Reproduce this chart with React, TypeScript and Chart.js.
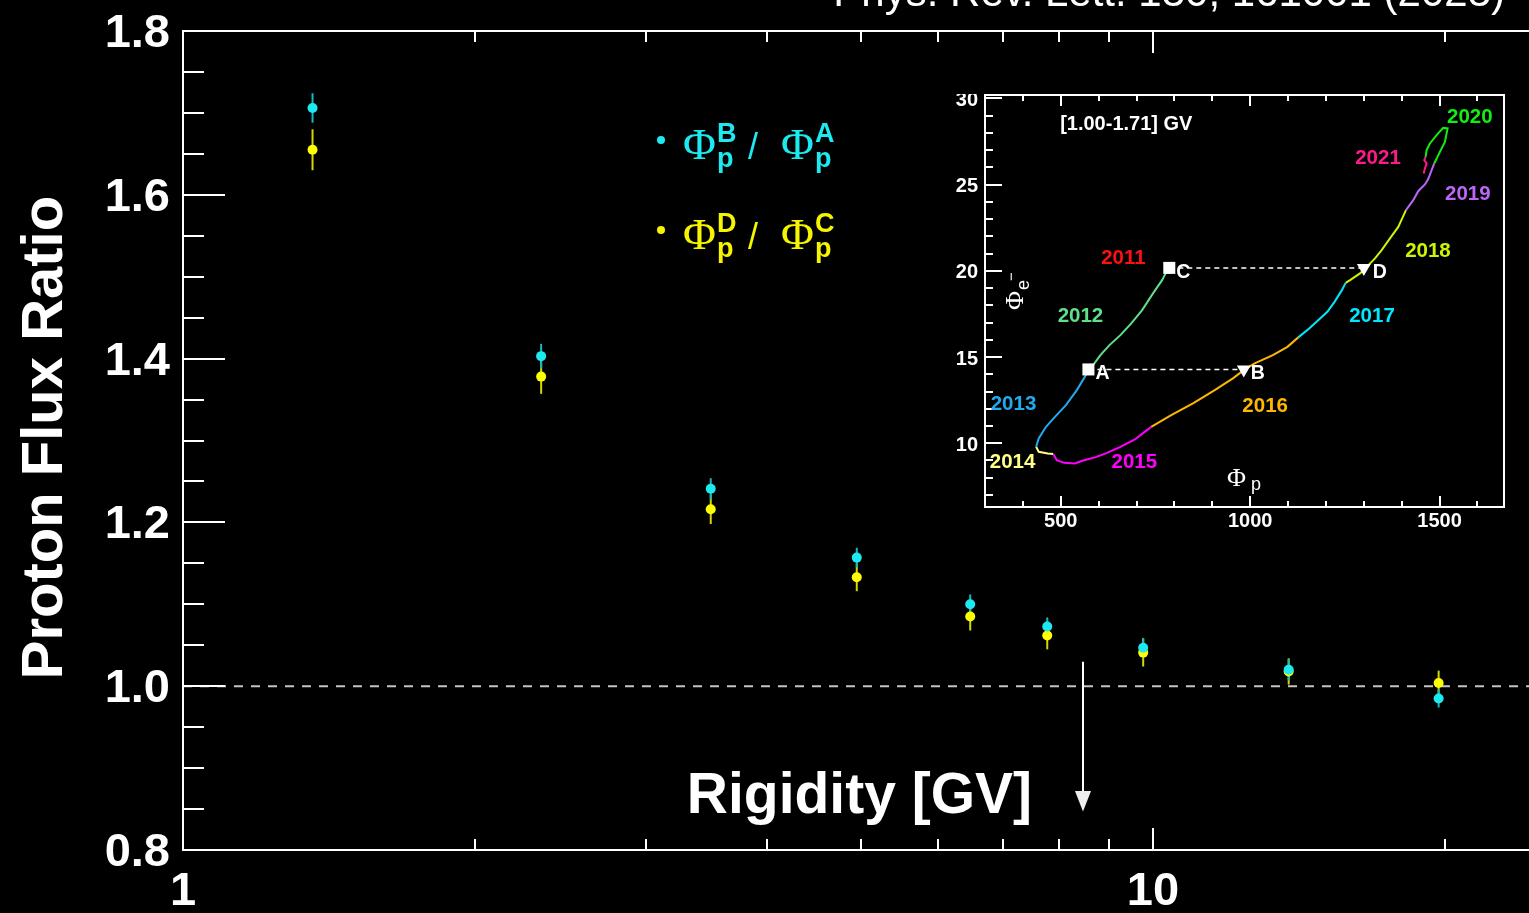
import React, { useEffect, useRef } from "react";
import { Chart, registerables } from "chart.js";

Chart.register(...registerables);

const FONT = '"Liberation Sans", Arial, Helvetica, sans-serif';
const SERIF = '"Liberation Serif", "Times New Roman", serif';

// ---------------- main panel data ----------------
const rigidityGV = [1.36, 2.34, 3.5, 4.95, 6.48, 7.78, 9.77, 13.8, 19.7];
const ratioBoverA = [1.706, 1.403, 1.241, 1.157, 1.1, 1.073, 1.047, 1.02, 0.985];
const errBoverA = [0.018, 0.015, 0.013, 0.012, 0.012, 0.011, 0.012, 0.013, 0.011];
const ratioDoverC = [1.655, 1.378, 1.216, 1.133, 1.085, 1.062, 1.041, 1.018, 1.004];
const errDoverC = [0.025, 0.021, 0.018, 0.017, 0.017, 0.017, 0.017, 0.016, 0.015];

const yMajorTicks = [0.8, 1.0, 1.2, 1.4, 1.6, 1.8];
const yMinorTicks = [0.85, 0.9, 0.95, 1.05, 1.1, 1.15, 1.25, 1.3, 1.35, 1.45, 1.5, 1.55, 1.65, 1.7, 1.75];
const xMajorTicks = [1, 10];
const xMinorTicks = [2, 3, 4, 5, 6, 7, 8, 9, 20];
const arrowRigidity = 8.47;
const arrowTop = 1.03;
const arrowBase = 0.872;
const arrowTip = 0.847;

const CYAN = "#1de9f0";
const CYAN_BAR = "#14b8c2";
const YELLOW = "#ffff00";
const YELLOW_BAR = "#d6d600";

// ---------------- inset data: (Phi_p, Phi_e-) trajectory by year ----------------
const flux2011 = [[793.6, 20.52], [786.5, 20.17]];
const flux2012 = [[786.5, 20.17], [777.3, 19.88], [767.5, 19.46], [743.5, 18.69], [714.8, 17.72], [686.1, 16.95], [657.4, 16.27], [628.6, 15.69], [604.6, 15.11], [585.4, 14.53], [573, 14.28]];
const flux2013 = [[573, 14.28], [566.4, 13.95], [542.4, 13.08], [513.7, 12.21], [484.7, 11.53], [461, 10.95], [441.8, 10.28], [434.9, 9.79]];
const flux2014 = [[434.9, 9.79], [441.8, 9.5], [465.7, 9.41], [479.9, 9.37]];
const flux2015 = [[479.9, 9.37], [489.6, 9.02], [508.7, 8.86], [537.4, 8.83], [556.7, 8.98], [590.2, 9.18], [619.1, 9.41], [657.4, 9.79], [695.6, 10.22], [738.8, 10.95]];
const flux2016 = [[738.8, 10.95], [791.5, 11.63], [849, 12.31], [906.4, 13.08], [954.4, 13.76], [983.1, 14.24], [1011.9, 14.63], [1059.9, 15.11], [1098.3, 15.59], [1127, 16.14]];
const flux2017 = [[1127, 16.14], [1155.8, 16.66], [1184.5, 17.24], [1203.7, 17.62], [1222.7, 18.2], [1242, 18.88], [1252, 19.3]];
const flux2018 = [[1252, 19.3], [1263.6, 19.46], [1289.9, 19.85], [1307.5, 20.23], [1329.5, 20.72], [1347, 21.2], [1369, 21.88], [1390.9, 22.55], [1411.2, 23.52]];
const flux2019 = [[1411.2, 23.52], [1430.4, 24.1], [1443.6, 24.62], [1461.3, 25.01], [1470, 25.32], [1485.8, 26.23]];
const flux2020 = [[1485.8, 26.23], [1500.8, 26.9], [1514, 27.48], [1521.1, 28.26], [1509.5, 28.29], [1492.1, 27.87], [1474.4, 27.39], [1465.7, 27.0], [1463.1, 26.61]];
const flux2021 = [[1463.1, 26.61], [1459.4, 26.42], [1465.7, 26.23], [1461.3, 25.94], [1457.8, 25.65]];

const yearNames = ["2011", "2012", "2013", "2014", "2015", "2016", "2017", "2018", "2019", "2020", "2021"];
const yearSegments = [flux2011, flux2012, flux2013, flux2014, flux2015, flux2016, flux2017, flux2018, flux2019, flux2020, flux2021];
const yearColors = ["#ff1010", "#5ee08a", "#22aaee", "#ffff88", "#ff00ff", "#ffb800", "#00e8ff", "#ccf500", "#bb66f5", "#11ee11", "#ff1a8c"];
const yearLabelPhiP = [665.3, 551.9, 375.3, 372.7, 694.3, 1039.5, 1321.6, 1469.2, 1574.6, 1579.9, 1337.4];
const yearLabelPhiE = [20.85, 17.43, 12.33, 8.97, 8.97, 12.21, 17.43, 21.2, 24.56, 29.03, 26.65];

const squareMarkers = [{ x: 573, y: 14.28, name: "A" }, { x: 786.5, y: 20.17, name: "C" }];
const triangleMarkers = [{ x: 983, y: 14.28, name: "B" }, { x: 1300, y: 20.17, name: "D" }];

const insetXLabels = [500, 1000, 1500];
const insetXMinor = [400, 600, 700, 800, 900, 1100, 1200, 1300, 1400, 1600];
const insetYLabels = [10, 15, 20, 25, 30];
const insetYMinor = [7, 8, 9, 11, 12, 13, 14, 16, 17, 18, 19, 21, 22, 23, 24, 26, 27, 28, 29];
const insetRangeText = "[1.00-1.71] GV";
const insetRangeTextPos = [673, 28.56];

function seg(ctx: any, x1: number, y1: number, x2: number, y2: number) {
  ctx.beginPath();
  ctx.moveTo(x1, y1);
  ctx.lineTo(x2, y2);
  ctx.stroke();
}

function drawCentered(ctx: any, text: string, x: number, cy: number, size: number, color: string, align = "center") {
  ctx.font = `bold ${size}px ${FONT}`;
  ctx.fillStyle = color;
  ctx.textAlign = align;
  ctx.textBaseline = "alphabetic";
  ctx.fillText(text, x, cy + 0.358 * size);
}

function drawRatioLegend(ctx: any, base: number, color: string, num: string, den: string) {
  ctx.fillStyle = color;
  ctx.beginPath();
  ctx.arc(661, base - 19, 4, 0, Math.PI * 2);
  ctx.fill();
  ctx.textAlign = "left";
  ctx.textBaseline = "alphabetic";
  ctx.font = `45px ${SERIF}`;
  ctx.fillText("Φ", 683, base);
  ctx.font = `bold 27px ${FONT}`;
  ctx.fillText(num, 717, base - 17);
  ctx.fillText("p", 717, base + 8);
  ctx.font = `36px ${FONT}`;
  ctx.fillText("/", 748, base);
  ctx.font = `45px ${SERIF}`;
  ctx.fillText("Φ", 781, base);
  ctx.font = `bold 27px ${FONT}`;
  ctx.fillText(den, 815, base - 17);
  ctx.fillText("p", 815, base + 8);
}

const mainDecor = {
  id: "mainDecor",
  beforeDatasetsDraw(chart: any) {
    const { ctx, chartArea: a } = chart;
    const x = chart.scales.x;
    const y = chart.scales.y;
    ctx.save();
    // reference line at 1
    ctx.strokeStyle = "#c4c4c4";
    ctx.lineWidth = 2;
    ctx.setLineDash([9, 8]);
    const y1 = y.getPixelForValue(1.0);
    seg(ctx, a.left, y1, a.right, y1);
    ctx.setLineDash([]);
    // error bars
    const series: any[] = [
      [ratioDoverC, errDoverC, YELLOW_BAR],
      [ratioBoverA, errBoverA, CYAN_BAR],
    ];
    for (const [vals, errs, col] of series) {
      ctx.strokeStyle = col;
      ctx.lineWidth = 2;
      rigidityGV.forEach((r, i) => {
        const px = x.getPixelForValue(r);
        seg(ctx, px, y.getPixelForValue(vals[i] + errs[i]), px, y.getPixelForValue(vals[i] - errs[i]));
      });
    }
    ctx.restore();
  },
  afterDraw(chart: any) {
    const { ctx, chartArea: a } = chart;
    const x = chart.scales.x;
    const y = chart.scales.y;
    ctx.save();
    ctx.strokeStyle = "#ffffff";
    ctx.lineWidth = 2;
    // frame
    seg(ctx, a.left - 1, a.top, a.right + 5, a.top);
    seg(ctx, a.left - 1, a.bottom, a.right + 5, a.bottom);
    seg(ctx, a.left, a.top, a.left, a.bottom);
    // y ticks
    for (const v of yMinorTicks) {
      const py = Math.round(y.getPixelForValue(v));
      seg(ctx, a.left, py, a.left + 21, py);
    }
    for (const v of yMajorTicks) {
      const py = Math.round(y.getPixelForValue(v));
      seg(ctx, a.left, py, a.left + 42, py);
    }
    // x ticks top & bottom
    for (const v of xMinorTicks) {
      const px = Math.round(x.getPixelForValue(v));
      seg(ctx, px, a.bottom, px, a.bottom - 11);
      seg(ctx, px, a.top, px, a.top + 11);
    }
    for (const v of xMajorTicks) {
      const px = Math.round(x.getPixelForValue(v));
      seg(ctx, px, a.bottom, px, a.bottom - 22);
      seg(ctx, px, a.top, px, a.top + 22);
    }
    // arrow
    const ax = Math.round(x.getPixelForValue(arrowRigidity));
    const yb = y.getPixelForValue(arrowBase);
    seg(ctx, ax, y.getPixelForValue(arrowTop), ax, yb);
    ctx.fillStyle = "#eeeeee";
    ctx.beginPath();
    ctx.moveTo(ax - 8, yb);
    ctx.lineTo(ax + 8, yb);
    ctx.lineTo(ax, y.getPixelForValue(arrowTip));
    ctx.closePath();
    ctx.fill();
    // axis titles
    ctx.fillStyle = "#ffffff";
    ctx.font = `bold 57px ${FONT}`;
    ctx.textAlign = "right";
    ctx.textBaseline = "alphabetic";
    ctx.fillText("Rigidity [GV]", 1032, 813);
    ctx.save();
    ctx.translate(62, 437.5);
    ctx.rotate(-Math.PI / 2);
    ctx.textAlign = "center";
    ctx.font = `bold 58px ${FONT}`;
    ctx.fillText("Proton Flux Ratio", 0, 0);
    ctx.restore();
    // journal reference (cut by top edge)
    ctx.font = `42px ${FONT}`;
    ctx.textAlign = "right";
    ctx.fillText("Phys. Rev. Lett. 130, 161001 (2023)", 1505, 6);
    // legend
    drawRatioLegend(ctx, 159, CYAN, "B", "A");
    drawRatioLegend(ctx, 249, "#f5f500", "D", "C");
    ctx.restore();
  },
};

const insetDecor = {
  id: "insetDecor",
  afterDraw(chart: any) {
    const { ctx, chartArea: a } = chart;
    const x = chart.scales.x;
    const y = chart.scales.y;
    ctx.save();
    ctx.strokeStyle = "#ffffff";
    ctx.lineWidth = 2;
    ctx.strokeRect(a.left, a.top, a.right - a.left, a.bottom - a.top);
    for (const v of insetYMinor) {
      const py = Math.round(y.getPixelForValue(v));
      seg(ctx, a.left, py, a.left + 8, py);
    }
    for (const v of insetYLabels) {
      const py = Math.round(y.getPixelForValue(v));
      seg(ctx, a.left, py, a.left + 17, py);
    }
    for (const v of insetXMinor) {
      const px = Math.round(x.getPixelForValue(v));
      seg(ctx, px, a.bottom, px, a.bottom - 6);
      seg(ctx, px, a.top, px, a.top + 6);
    }
    for (const v of insetXLabels) {
      const px = Math.round(x.getPixelForValue(v));
      seg(ctx, px, a.bottom, px, a.bottom - 11);
      seg(ctx, px, a.top, px, a.top + 11);
    }
    // year labels
    yearNames.forEach((t, i) => {
      drawCentered(ctx, t, x.getPixelForValue(yearLabelPhiP[i]), y.getPixelForValue(yearLabelPhiE[i]), 20.5, yearColors[i]);
    });
    drawCentered(ctx, insetRangeText, x.getPixelForValue(insetRangeTextPos[0]), y.getPixelForValue(insetRangeTextPos[1]), 20, "#ffffff");
    // marker letters
    for (const m of [...squareMarkers, ...triangleMarkers]) {
      const off = m.name === "D" ? 9 : 7;
      drawCentered(ctx, m.name, x.getPixelForValue(m.x) + off, y.getPixelForValue(m.y) + 3, 19.5, "#ffffff", "left");
    }
    // axis titles
    ctx.fillStyle = "#ffffff";
    ctx.textAlign = "left";
    ctx.textBaseline = "alphabetic";
    ctx.font = `26px ${SERIF}`;
    ctx.fillText("Φ", 297, 392);
    ctx.font = `18px ${FONT}`;
    ctx.fillText("p", 321, 396);
    ctx.save();
    ctx.translate(93, 216);
    ctx.rotate(-Math.PI / 2);
    ctx.font = `26px ${SERIF}`;
    ctx.fillText("Φ", 0, 0);
    ctx.font = `18px ${FONT}`;
    ctx.fillText("e", 20, 6);
    ctx.font = `15px ${FONT}`;
    ctx.fillText("−", 29, -7);
    ctx.restore();
    ctx.restore();
  },
};

function zeroPad(s: any) {
  s.paddingTop = 0;
  s.paddingBottom = 0;
  s.paddingLeft = 0;
  s.paddingRight = 0;
}

export default function App() {
  const mainRef = useRef<HTMLCanvasElement>(null);
  const insetRef = useRef<HTMLCanvasElement>(null);

  useEffect(() => {
    const main = new Chart(mainRef.current as HTMLCanvasElement, {
      type: "scatter",
      data: {
        datasets: [
          {
            label: "Phi_p^B / Phi_p^A",
            data: rigidityGV.map((r, i) => ({ x: r, y: ratioBoverA[i] })),
            backgroundColor: CYAN,
            borderWidth: 0,
            pointRadius: 5,
            pointHoverRadius: 5,
          },
          {
            label: "Phi_p^D / Phi_p^C",
            data: rigidityGV.map((r, i) => ({ x: r, y: ratioDoverC[i] })),
            backgroundColor: YELLOW,
            borderWidth: 0,
            pointRadius: 5,
            pointHoverRadius: 5,
          },
        ],
      },
      options: {
        responsive: false,
        animation: false,
        events: [],
        layout: { autoPadding: false, padding: { top: 31, right: 1, left: 0, bottom: 0 } },
        plugins: { legend: { display: false }, tooltip: { enabled: false } },
        scales: {
          x: {
            type: "logarithmic",
            min: 1,
            max: 25,
            afterBuildTicks: (ax: any) => {
              ax.ticks = xMajorTicks.map((v) => ({ value: v }));
            },
            afterFit: (s: any) => {
              s.height = 63;
              zeroPad(s);
            },
            grid: { display: false, drawTicks: false },
            border: { display: false },
            ticks: {
              color: "#ffffff",
              font: { family: FONT, size: 47, weight: "bold" },
              padding: 14,
              autoSkip: false,
              maxRotation: 0,
              callback: (v: any) => String(v),
            },
          },
          y: {
            type: "linear",
            min: 0.8,
            max: 1.8,
            afterBuildTicks: (ax: any) => {
              ax.ticks = yMajorTicks.map((v) => ({ value: v }));
            },
            afterFit: (s: any) => {
              s.width = 183;
              zeroPad(s);
            },
            grid: { display: false, drawTicks: false },
            border: { display: false },
            ticks: {
              color: "#ffffff",
              font: { family: FONT, size: 47, weight: "bold" },
              padding: 13,
              labelOffset: 3,
              callback: (v: any) => Number(v).toFixed(1),
            },
          },
        },
      },
      plugins: [mainDecor],
    } as any);

    const lineSets = yearSegments.map((segData, i) => ({
      label: yearNames[i],
      data: segData.map(([px, pe]) => ({ x: px, y: pe })),
      showLine: true,
      borderColor: yearColors[i],
      borderWidth: 2,
      pointRadius: 0,
      tension: 0,
      fill: false,
      order: 2,
    }));

    const inset = new Chart(insetRef.current as HTMLCanvasElement, {
      type: "scatter",
      data: {
        datasets: [
          {
            label: "A, C",
            data: squareMarkers.map((m) => ({ x: m.x, y: m.y })),
            pointStyle: "rect",
            pointRadius: 8.5,
            backgroundColor: "#ffffff",
            borderWidth: 0,
            order: 0,
          },
          {
            label: "B, D",
            data: triangleMarkers.map((m) => ({ x: m.x, y: m.y })),
            pointStyle: "triangle",
            pointRotation: 180,
            pointRadius: 8,
            backgroundColor: "#ffffff",
            borderWidth: 0,
            order: 0,
          },
          {
            label: "A-B",
            data: [squareMarkers[0], triangleMarkers[0]].map((m) => ({ x: m.x, y: m.y })),
            showLine: true,
            borderColor: "#ffffff",
            borderWidth: 1.5,
            borderDash: [5, 4],
            pointRadius: 0,
            order: 1,
          },
          {
            label: "C-D",
            data: [squareMarkers[1], triangleMarkers[1]].map((m) => ({ x: m.x, y: m.y })),
            showLine: true,
            borderColor: "#ffffff",
            borderWidth: 1.5,
            borderDash: [5, 4],
            pointRadius: 0,
            order: 1,
          },
          ...lineSets,
        ],
      },
      options: {
        responsive: false,
        animation: false,
        events: [],
        layout: { autoPadding: false, padding: { top: 1, right: 25, left: 0, bottom: 0 } },
        plugins: { legend: { display: false }, tooltip: { enabled: false } },
        scales: {
          x: {
            type: "linear",
            min: 300,
            max: 1670,
            afterBuildTicks: (ax: any) => {
              ax.ticks = insetXLabels.map((v) => ({ value: v }));
            },
            afterFit: (s: any) => {
              s.height = 38;
              zeroPad(s);
            },
            grid: { display: false, drawTicks: false },
            border: { display: false },
            ticks: {
              color: "#ffffff",
              font: { family: FONT, size: 20, weight: "bold" },
              padding: 2,
              autoSkip: false,
              maxRotation: 0,
              callback: (v: any) => String(v),
            },
          },
          y: {
            type: "linear",
            min: 6.3,
            max: 30.2,
            afterBuildTicks: (ax: any) => {
              ax.ticks = insetYLabels.map((v) => ({ value: v }));
            },
            afterFit: (s: any) => {
              s.width = 55;
              zeroPad(s);
            },
            grid: { display: false, drawTicks: false },
            border: { display: false },
            ticks: {
              color: "#ffffff",
              font: { family: FONT, size: 20, weight: "bold" },
              padding: 7,
              labelOffset: 2,
              callback: (v: any) => String(v),
            },
          },
        },
      },
      plugins: [insetDecor],
    } as any);

    return () => {
      main.destroy();
      inset.destroy();
    };
  }, []);

  return (
    <div
      style={{
        position: "fixed",
        left: 0,
        top: 0,
        width: 1529,
        height: 913,
        overflow: "hidden",
        background: "#000000",
      }}
    >
      <canvas
        ref={mainRef}
        width={1540}
        height={913}
        style={{ position: "absolute", left: 0, top: 0, width: 1540, height: 913, display: "block" }}
      />
      <canvas
        ref={insetRef}
        width={599}
        height={451}
        style={{ position: "absolute", left: 930, top: 94, width: 599, height: 451, display: "block" }}
      />
    </div>
  );
}
